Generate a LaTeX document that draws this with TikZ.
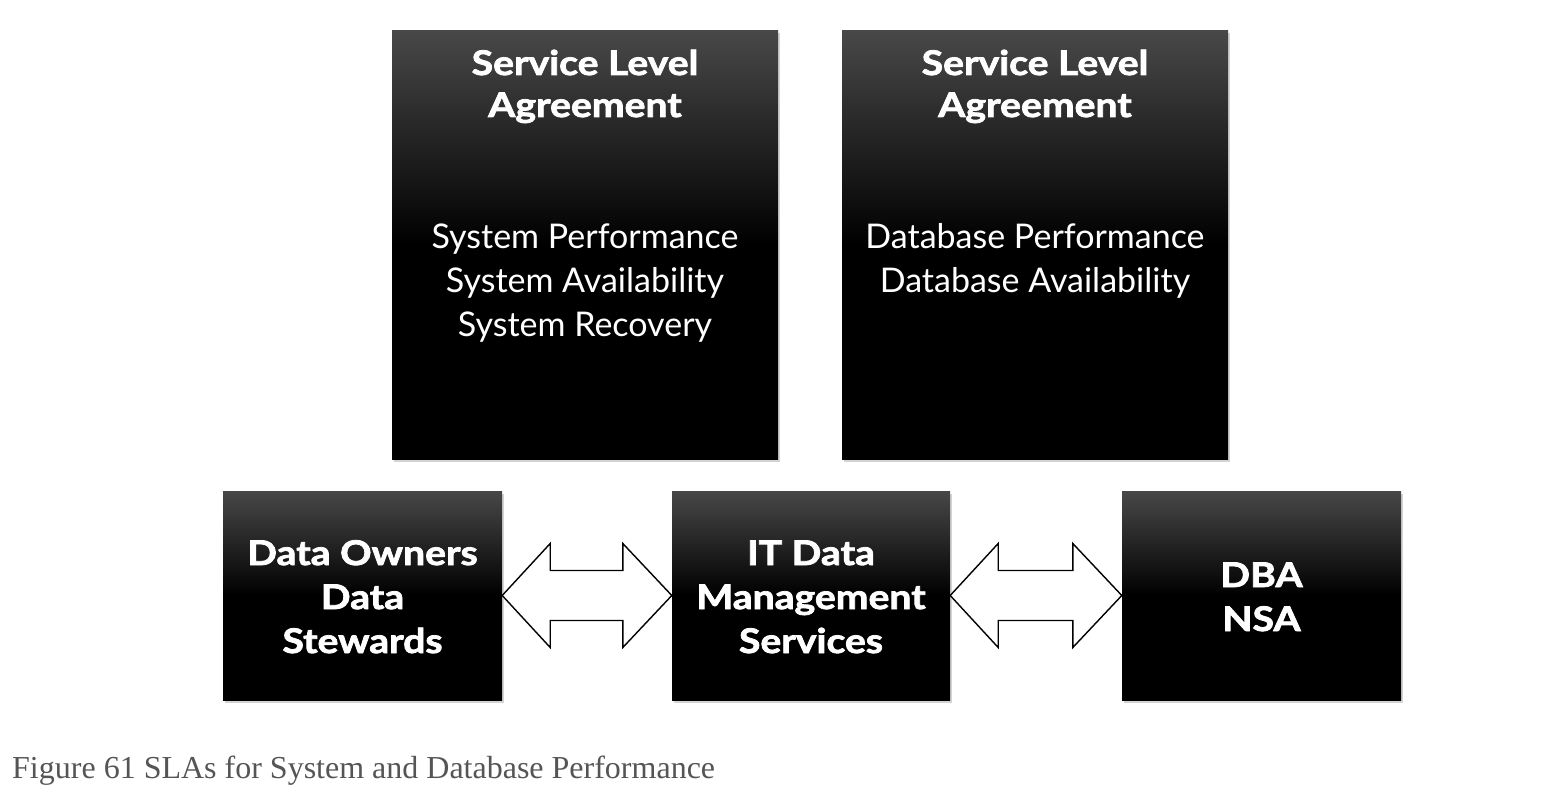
\documentclass[tikz,border=0pt]{standalone}
\usepackage{fontspec}
\setmainfont{Lato}
\newfontfamily\heavyfont{Lato}[BoldFeatures={FakeBold=2.2,FakeStretch=1.15}]
\newfontfamily\capfont{Liberation Serif}
\usetikzlibrary{shadows,calc}
\definecolor{boxtop}{RGB}{72,72,72}
\definecolor{capgray}{RGB}{85,85,85}
\pgfdeclareverticalshading{boxshade}{100bp}{color(0bp)=(black); color(25bp)=(black); color(50bp)=(black); color(75bp)=(boxtop); color(100bp)=(boxtop)}
\tikzset{
  darkbox/.style={rectangle, draw=none, inner sep=0pt, shading=boxshade,
    drop shadow={shadow xshift=1.5pt, shadow yshift=-2.5pt, opacity=0.35}},
  titletxt/.style={anchor=base, inner sep=0pt, text=white, font=\heavyfont\fontsize{34}{40}\selectfont\bfseries},
  bodytxt/.style={anchor=base, inner sep=0pt, text=white, font=\fontsize{34}{40}\selectfont},
  bigarrow/.style={draw=black, fill=white, line width=1.4pt, line join=miter},
}
\begin{document}
\begin{tikzpicture}[x=1pt,y=-1pt]
\useasboundingbox (0,0) rectangle (1542,786);
% boxes
\node[darkbox, minimum width=386pt, minimum height=428pt] (sla1) at (585,245) {};
\node[darkbox, minimum width=386pt, minimum height=428pt] (sla2) at (1035,245) {};
\node[darkbox, minimum width=279pt, minimum height=209pt] (own) at (362.5,595.5) {};
\node[darkbox, minimum width=278pt, minimum height=209pt] (it) at (811,595.5) {};
\node[darkbox, minimum width=279pt, minimum height=209pt] (dba) at (1261.5,595.5) {};
% SLA 1 text
\node[titletxt] (s1a) at (585,75) {Service Level};
\node[titletxt] (s1b) at (585,117) {Agreement};
\node[bodytxt] (s1c) at (585,249) {System Performance};
\node[bodytxt] (s1d) at (585,293) {System Availability};
\node[bodytxt] (s1e) at (585,336) {System Recovery};
% SLA 2 text
\node[titletxt] (s2a) at (1035,75) {Service Level};
\node[titletxt] (s2b) at (1035,117) {Agreement};
\node[bodytxt] (s2c) at (1035,249) {Database Performance};
\node[bodytxt] (s2d) at (1035,293) {Database Availability};
% bottom texts
\node[titletxt] (o1) at (362.5,565) {Data Owners};
\node[titletxt] (o2) at (362.5,609) {Data};
\node[titletxt] (o3) at (362.5,653) {Stewards};
\node[titletxt] (i1) at (811,565) {IT Data};
\node[titletxt] (i2) at (811,609) {Management};
\node[titletxt] (i3) at (811,653) {Services};
\node[titletxt] (d1) at (1261.5,587) {DBA};
\node[titletxt] (d2) at (1261.5,631) {NSA};
% double arrows
\draw[bigarrow] (own.east) -- ++(48,-52) -- ++(0,27) -- ($(it.west)+(-49,-25)$) -- ++(0,-27) -- (it.west)
  -- ++(-49,52) -- ++(0,-27) -- ($(own.east)+(48,25)$) -- ++(0,27) -- cycle;
\draw[bigarrow] (it.east) -- ++(48,-52) -- ++(0,27) -- ($(dba.west)+(-49,-25)$) -- ++(0,-27) -- (dba.west)
  -- ++(-49,52) -- ++(0,-27) -- ($(it.east)+(48,25)$) -- ++(0,27) -- cycle;
% caption
\node[anchor=base west, inner sep=0pt, text=capgray, font=\capfont\fontsize{32}{36}\selectfont] (cap) at (12,778) {Figure 61 SLAs for System and Database Performance};
\end{tikzpicture}
\end{document}
